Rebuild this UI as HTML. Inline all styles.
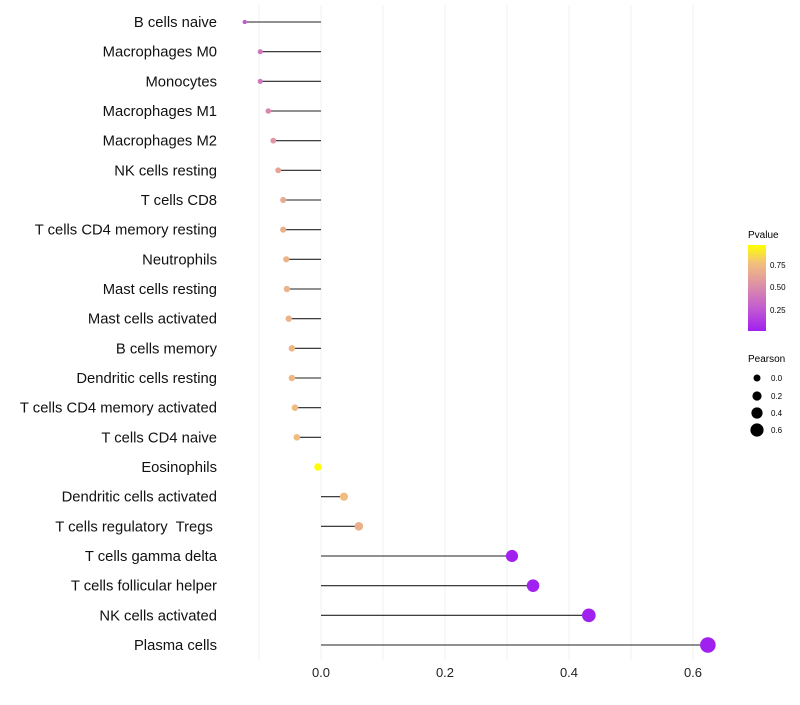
<!DOCTYPE html>
<html><head><meta charset="utf-8"><style>
body{margin:0;background:#fff;font-family:"Liberation Sans",sans-serif}
svg text{font-family:"Liberation Sans",sans-serif;white-space:pre}
</style></head><body>
<svg id="chart" width="800" height="700" xmlns="http://www.w3.org/2000/svg">
<g id="grid"></g>
<g id="marks"></g>
<g id="ylabels"></g>
<g id="xlabels"></g>
<g>
<defs><linearGradient id="pg" x1="0" y1="1" x2="0" y2="0">
<stop offset="0" stop-color="#a020f0"/><stop offset="0.27" stop-color="#c35cd0"/><stop offset="0.53" stop-color="#dc90a8"/><stop offset="0.79" stop-color="#f2c07c"/><stop offset="1" stop-color="#ffff00"/></linearGradient></defs>
<text x="748" y="238" font-size="10">Pvalue</text>
<rect x="748" y="245" width="18" height="86" fill="url(#pg)"/>
<text x="770" y="268" font-size="8">0.75</text>
<text x="770" y="290" font-size="8">0.50</text>
<text x="770" y="313" font-size="8">0.25</text>
<text x="748" y="362" font-size="10">Pearson</text>
<circle cx="757" cy="378" r="3.5" fill="#000"/>
<circle cx="757" cy="396" r="4.6" fill="#000"/>
<circle cx="757" cy="413" r="5.6" fill="#000"/>
<circle cx="757" cy="430" r="6.6" fill="#000"/>
<text x="771" y="381" font-size="8">0.0</text>
<text x="771" y="399" font-size="8">0.2</text>
<text x="771" y="416" font-size="8">0.4</text>
<text x="771" y="433" font-size="8">0.6</text>
</g>
</svg>
<script>
const categories=["B cells naive","Macrophages M0","Monocytes","Macrophages M1","Macrophages M2","NK cells resting","T cells CD8","T cells CD4 memory resting","Neutrophils","Mast cells resting","Mast cells activated","B cells memory","Dendritic cells resting","T cells CD4 memory activated","T cells CD4 naive","Eosinophils","Dendritic cells activated","T cells regulatory  Tregs ","T cells gamma delta","T cells follicular helper","NK cells activated","Plasma cells"];
const pearson=[-0.123,-0.098,-0.098,-0.085,-0.077,-0.069,-0.061,-0.061,-0.056,-0.055,-0.052,-0.047,-0.047,-0.042,-0.039,-0.005,0.037,0.061,0.308,0.342,0.432,0.624];
const pvalues=[0.25,0.4,0.4,0.48,0.55,0.62,0.65,0.68,0.7,0.7,0.7,0.72,0.72,0.74,0.75,0.96,0.75,0.68,0.02,0.015,0.01,0.005];
const xTicks=[0.0,0.2,0.4,0.6];
const gridVals=[-0.1,0.0,0.1,0.2,0.3,0.4,0.5,0.6];
const NS="http://www.w3.org/2000/svg";
const x=v=>321+v*620;
const y=i=>22+i*(623/21);
const stops=[[0,[160,32,240]],[0.27,[195,92,208]],[0.53,[220,144,168]],[0.79,[242,192,124]],[1,[255,255,0]]];
function col(p){p=(p-0.011)/(0.967-0.011);p=Math.max(0,Math.min(1,p));for(let k=1;k<stops.length;k++){if(p<=stops[k][0]){const a=stops[k-1],b=stops[k],t=(p-a[0])/(b[0]-a[0]);return 'rgb('+a[1].map((c,j)=>Math.round(c+(b[1][j]-c)*t)).join(',')+')';}}return 'rgb(255,255,0)';}
function mk(t,attrs,parent){const e=document.createElementNS(NS,t);for(const k in attrs)e.setAttribute(k,attrs[k]);document.getElementById(parent).appendChild(e);return e;}
gridVals.forEach(v=>{const l=mk('line',{x1:x(v),x2:x(v),y1:5,y2:660,stroke:'#f2f2f2','stroke-width':1},'grid');

});
xTicks.forEach(v=>{const t=mk('text',{x:x(v),y:677,'font-size':13,'text-anchor':'middle',fill:'#222'},'xlabels');t.textContent=v.toFixed(1);

});
categories.forEach((c,i)=>{
const t=mk('text',{x:217,y:y(i)+5,'font-size':14.8,'text-anchor':'end',fill:'#111'},'ylabels');t.textContent=c;


const l=mk('line',{x1:x(0),x2:x(pearson[i]),y1:y(i),y2:y(i),stroke:'#222','stroke-width':1.1},'marks');


const r=Math.sqrt(Math.max(2.3,14+75*pearson[i]));
const d=mk('circle',{cx:x(pearson[i]),cy:y(i),r:r,fill:col(pvalues[i])},'marks');


});
</script>
</body></html>
